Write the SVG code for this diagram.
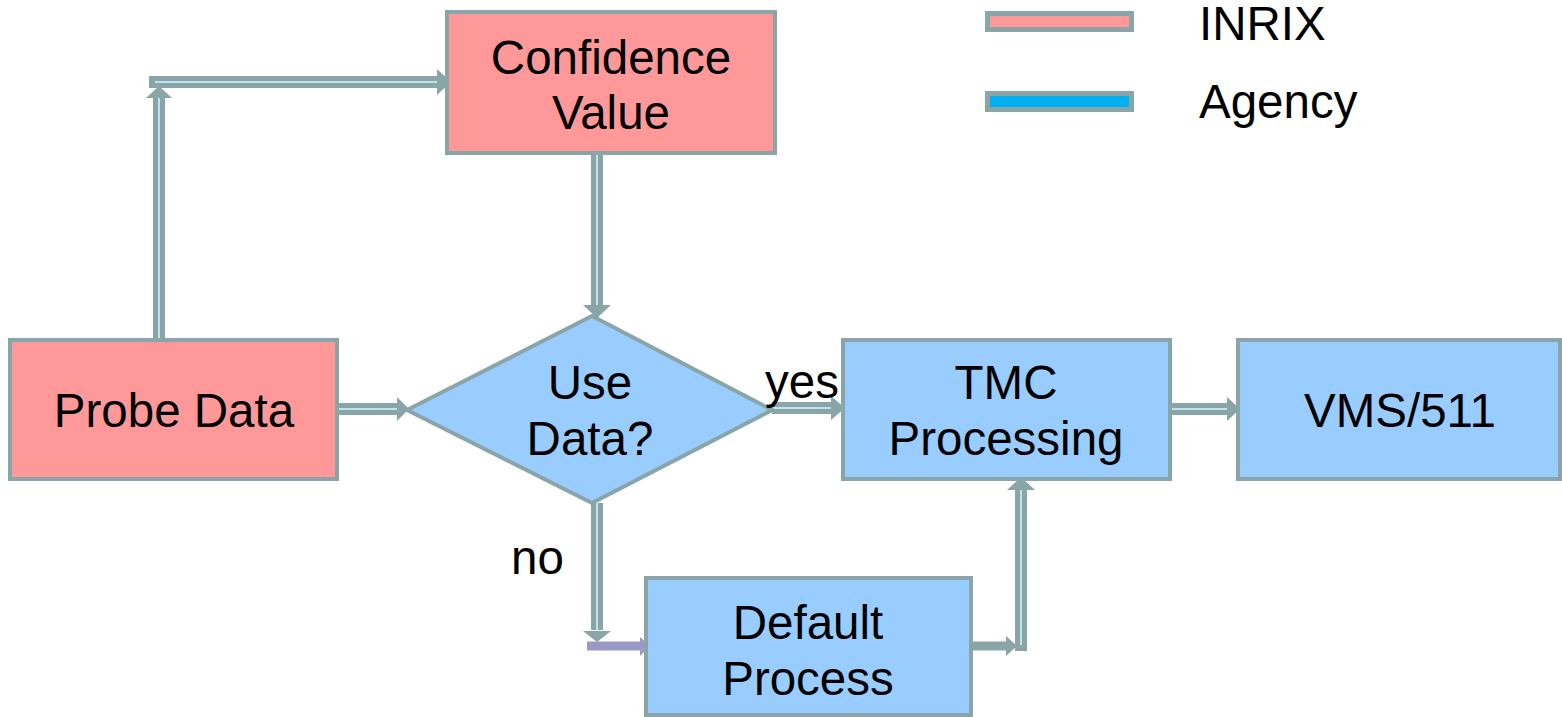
<svg xmlns="http://www.w3.org/2000/svg" width="1562" height="717" viewBox="0 0 1562 717">
<style>
.box{stroke:#8aa5a8;stroke-width:4}
.inrix{fill:#ff9999}
.agency{fill:#99ccff}
.t{font-family:"Liberation Sans",Arial,sans-serif;font-size:47.5px;fill:#000;text-anchor:middle}
.tl{font-family:"Liberation Sans",Arial,sans-serif;font-size:47.5px;fill:#000}
.sh{stroke:#8aa5a8;stroke-width:12;fill:none}
.core{stroke:#bfe3ea;stroke-width:2;fill:none}
.head{fill:#8aa5a8}
</style>
<rect width="1562" height="717" fill="#fff"/>
<g id="legend">
<rect x="987.5" y="13.5" width="144" height="16" fill="#ff9999" stroke="#8aa5a8" stroke-width="5"/>
<rect x="987.5" y="93.5" width="144" height="16" fill="#00b0f0" stroke="#8aa5a8" stroke-width="5"/>
<text class="tl" x="1199" y="40">INRIX</text>
<text class="tl" x="1199" y="118">Agency</text>
</g>
<g id="connectors">
<path class="sh" d="M159,340 V98"/><path class="core" d="M159,340 V92"/>
<polygon class="head" points="146,98 172,98 159,86"/>
<path class="sh" d="M149,82 H437"/><path class="core" d="M155,82 H445"/>
<polygon class="head" points="437,69 437,95 451,82"/>
<path class="sh" d="M597,153 V305"/><path class="core" d="M597,153 V312"/>
<polygon class="head" points="583,305 611,305 597,318"/>
<path class="sh" d="M337,409 H397"/><path class="core" d="M337,409 H404"/>
<polygon class="head" points="397,397 397,421 409,409"/>
<path class="sh" d="M772,408 H831"/><path class="core" d="M772,408 H840"/>
<polygon class="head" points="831,396 831,420 845,408"/>
<path class="sh" d="M1170,409 H1227"/><path class="core" d="M1170,409 H1235"/>
<polygon class="head" points="1227,397 1227,421 1240,409"/>
<path class="sh" d="M597,503 V630"/><path class="core" d="M597,503 V637"/>
<polygon class="head" points="583,631 611,631 597,642"/>
<path d="M587,646 H640" stroke="#9999c4" stroke-width="9" fill="none"/>
<polygon points="640,637 640,656 650,646" fill="#9999c4"/>
<path d="M971,646 H1006" stroke="#8aa5a8" stroke-width="9" fill="none"/>
<polygon class="head" points="1006,636 1006,656 1017,646"/>
<path class="sh" d="M1021,651 V490"/><path class="core" d="M1021,645 V484"/>
<polygon class="head" points="1007,490 1035,490 1021,477"/>
</g>
<g id="confidence">
<rect class="box inrix" x="447" y="12" width="328" height="141"/>
<text class="t" x="611" y="74">Confidence</text>
<text class="t" x="611" y="129">Value</text>
</g>
<g id="probe">
<rect class="box inrix" x="10" y="340" width="327" height="139"/>
<text class="t" x="174" y="427">Probe Data</text>
</g>
<g id="decision">
<polygon class="box agency" points="407,410 592,316 772,410 592,503"/>
<text class="t" x="590" y="399">Use</text>
<text class="t" x="590" y="455">Data?</text>
</g>
<g id="tmc">
<rect class="box agency" x="843" y="340" width="327" height="139"/>
<text class="t" x="1006" y="399">TMC</text>
<text class="t" x="1006" y="455">Processing</text>
</g>
<g id="vms">
<rect class="box agency" x="1238" y="340" width="322" height="139"/>
<text class="t" x="1400" y="427">VMS/511</text>
</g>
<g id="default">
<rect class="box agency" x="646" y="578" width="325" height="137"/>
<text class="t" x="808" y="639">Default</text>
<text class="t" x="808" y="695">Process</text>
</g>
<g id="labels">
<text class="tl" x="765" y="398">yes</text>
<text class="tl" x="511" y="574">no</text>
</g>
</svg>
